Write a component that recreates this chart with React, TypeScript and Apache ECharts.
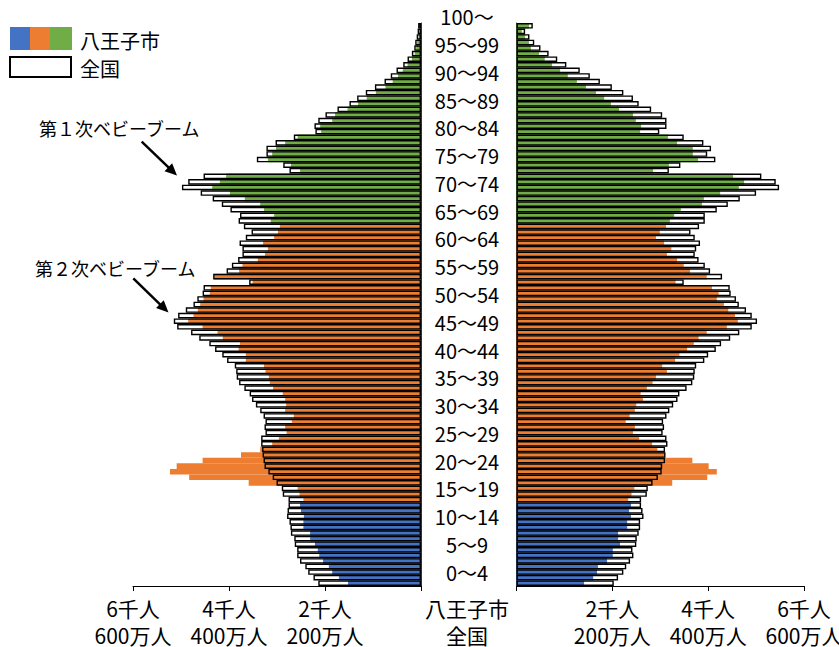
import React, { useEffect, useRef } from "react";
import * as echarts from "echarts";

// ---------- data ----------
const AGES: string[] = Array.from({ length: 101 }, (_, i) => String(i));

const AGE_GROUP_LABELS = [
  "0～4", "5～9", "10～14", "15～19", "20～24", "25～29", "30～34", "35～39",
  "40～44", "45～49", "50～54", "55～59", "60～64", "65～69", "70～74",
  "75～79", "80～84", "85～89", "90～94", "95～99", "100～",
];

const TICK_VALUES = [0, 2000, 4000, 6000];
const TICK_CITY = ["", "2千人", "4千人", "6千人"];
const TICK_NATION = ["", "200万人", "400万人", "600万人"];

// 八王子市 (people), ages 0..100+
const maleCity = [
  1520, 1710, 1850, 1920, 2040, 2120, 2150, 2210, 2310, 2310,
  2450, 2450, 2440, 2500, 2520, 2450, 2530, 2570, 3590, 4830,
  5230, 5090, 4550, 3750, 3350, 3100, 2960, 2800, 2830, 2690,
  2650, 2830, 2810, 2830, 2880, 3080, 3150, 3170, 3240, 3270,
  3650, 3650, 3800, 3770, 4130, 4240, 4550, 4850, 4740, 4650,
  4600, 4530, 4400, 4380, 3510, 4310, 3790, 3720, 3400, 3250,
  3190, 3290, 3060, 2980, 2940, 3130, 3060, 3270, 3350, 3670,
  3980, 4350, 4190, 4060, 2520, 2710, 3190, 3100, 3020, 2830,
  2570, 2080, 2100, 1850, 1790, 1530, 1310, 1130, 940, 740,
  590, 480, 380, 280, 190, 130, 100, 80, 50, 30,
  20,
];
const femaleCity = [
  1410, 1600, 1680, 1700, 1890, 2010, 2010, 2160, 2120, 2120,
  2310, 2310, 2390, 2350, 2390, 2330, 2400, 2460, 3250, 3980,
  4180, 4010, 3670, 3100, 2940, 2830, 2560, 2430, 2470, 2280,
  2360, 2470, 2500, 2640, 2590, 2720, 2840, 2910, 3140, 3040,
  3310, 3400, 3560, 3700, 3800, 3970, 4390, 4620, 4560, 4420,
  4330, 4180, 4220, 4080, 3320, 3970, 3620, 3490, 3350, 3140,
  3230, 3080, 2910, 2990, 3120, 3200, 3290, 3430, 3870, 3910,
  4250, 4640, 4750, 4520, 2850, 3180, 3790, 3680, 3680, 3350,
  3160, 2580, 2600, 2490, 2430, 2140, 1970, 1830, 1660, 1450,
  1260, 1070, 910, 740, 590, 470, 300, 260, 180, 110,
  260,
];
// 全国 (万人), ages 0..100+
const maleNation = [
  214, 224, 235, 241, 252, 258, 258, 263, 264, 271,
  272, 274, 279, 278, 276, 276, 288, 290, 301, 309,
  318, 326, 328, 330, 331, 333, 333, 324, 326, 324,
  328, 335, 344, 352, 357, 368, 379, 384, 385, 388,
  404, 414, 429, 441, 462, 479, 508, 515, 506, 490,
  474, 466, 455, 453, 358, 433, 405, 394, 381, 372,
  372, 378, 365, 353, 369, 380, 377, 397, 415, 434,
  459, 498, 485, 453, 274, 287, 342, 322, 322, 303,
  265, 220, 222, 214, 199, 174, 149, 133, 115, 96,
  76, 63, 51, 37, 28, 19, 14, 12, 9, 7,
  6,
];
const femaleNation = [
  203, 212, 223, 229, 237, 244, 242, 250, 251, 255,
  258, 258, 265, 263, 260, 260, 272, 274, 284, 295,
  303, 304, 310, 311, 310, 315, 313, 305, 308, 306,
  313, 319, 327, 336, 340, 355, 367, 371, 372, 375,
  392, 400, 416, 427, 446, 465, 491, 502, 491, 479,
  464, 458, 447, 445, 349, 429, 404, 393, 380, 372,
  375, 383, 372, 363, 381, 393, 393, 418, 441, 466,
  500, 548, 541, 511, 318, 342, 415, 398, 406, 390,
  349, 298, 313, 313, 304, 281, 255, 243, 223, 199,
  174, 153, 132, 104, 85, 67, 50, 37, 27, 18,
  34,
];

// ---------- styling ----------
const FONT = '"Noto Sans CJK JP", "Noto Sans", sans-serif';
const BLUE = "#4472C4";
const ORANGE = "#ED7D31";
const GREEN = "#70AD47";
const colorFor = (age: number) => (age < 15 ? BLUE : age < 65 ? ORANGE : GREEN);

const xLabel = (v: number) => {
  const i = TICK_VALUES.indexOf(v);
  if (i <= 0) return "";
  return `${TICK_CITY[i]}\n${TICK_NATION[i]}`;
};

function arrow(x1: number, y1: number, x2: number, y2: number) {
  const dx = x2 - x1, dy = y2 - y1;
  const L = Math.hypot(dx, dy);
  const ux = dx / L, uy = dy / L;
  const hl = 12, hw = 5.5;
  const bx = x2 - ux * hl, by = y2 - uy * hl;
  return [
    { type: "line", shape: { x1, y1, x2: bx + ux * 2, y2: by + uy * 2 }, style: { stroke: "#000", lineWidth: 2.5 } },
    {
      type: "polygon",
      shape: { points: [[x2, y2], [bx - uy * hw, by + ux * hw], [bx + uy * hw, by - ux * hw]] },
      style: { fill: "#000" },
    },
  ];
}

const txt = (text: string, x: number, y: number, size: number, align = "left", lineHeight?: number) => ({
  type: "text",
  x,
  y,
  style: { text, fontSize: size, fontFamily: FONT, fill: "#000", align, verticalAlign: "middle", lineHeight },
});

export default function App() {
  const ref = useRef<HTMLDivElement>(null);
  useEffect(() => {
    if (!ref.current) return;
    const chart = echarts.init(ref.current, null, { renderer: "svg" });

    const valueAxisCommon = {
      type: "value",
      min: 0,
      max: 6000,
      interval: 2000,
      splitLine: { show: false },
      axisLine: { show: true, lineStyle: { color: "#000", width: 1 } },
      axisTick: { show: true, length: 5, lineStyle: { color: "#000" } },
      axisLabel: {
        formatter: xLabel,
        fontSize: 21,
        lineHeight: 27,
        color: "#000",
        fontFamily: FONT,
        margin: 8.5,
        showMinLabel: true,
        showMaxLabel: true,
      },
    };
    const hiddenNation = { type: "value", min: 0, max: 600, show: false, splitLine: { show: false } };
    const catAxisCommon = {
      type: "category",
      data: AGES,
      axisLine: { show: true, lineStyle: { color: "#333", width: 1 } },
      axisTick: { show: false },
      axisLabel: { show: false },
      splitLine: { show: false },
    };
    const cityData = (arr: number[]) => arr.map((v, i) => ({ value: v, itemStyle: { color: colorFor(i) } }));
    const nationStyle = { color: "rgba(255,255,255,0)", borderColor: "#000", borderWidth: 1.4 };

    chart.setOption({
      animation: false,
      backgroundColor: "#fff",
      grid: [
        { left: 133, top: 23, width: 288, height: 563, outerBoundsMode: "none", containLabel: false },
        { left: 516.5, top: 23, width: 287.5, height: 563, outerBoundsMode: "none", containLabel: false },
        { left: 421, top: 3.1, width: 95.5, height: 582.8, outerBoundsMode: "none", containLabel: false },
      ],
      xAxis: [
        { ...valueAxisCommon, gridIndex: 0, inverse: true },
        { ...hiddenNation, gridIndex: 0, inverse: true },
        { ...valueAxisCommon, gridIndex: 1 },
        { ...hiddenNation, gridIndex: 1 },
        { type: "value", gridIndex: 2, show: false, min: 0, max: 1 },
      ],
      yAxis: [
        { ...catAxisCommon, gridIndex: 0, position: "right" },
        { ...catAxisCommon, gridIndex: 1, position: "left" },
        {
          type: "category",
          gridIndex: 2,
          data: AGE_GROUP_LABELS,
          position: "left",
          axisLine: { show: false },
          axisTick: { show: false },
          splitLine: { show: false },
          axisLabel: {
            inside: true,
            margin: 46,
            align: "center",
            verticalAlign: "middle",
            fontSize: 20,
            color: "#000",
            fontFamily: FONT,
            interval: 0,
          },
        },
      ],
      series: [
        {
          type: "bar", xAxisIndex: 0, yAxisIndex: 0, data: cityData(maleCity),
          barCategoryGap: "0%", barGap: "-100%", silent: true,
        },
        {
          type: "bar", xAxisIndex: 1, yAxisIndex: 0, data: maleNation, itemStyle: nationStyle,
          barCategoryGap: "0%", barGap: "-100%", silent: true,
        },
        {
          type: "bar", xAxisIndex: 2, yAxisIndex: 1, data: cityData(femaleCity),
          barCategoryGap: "0%", barGap: "-100%", silent: true,
        },
        {
          type: "bar", xAxisIndex: 3, yAxisIndex: 1, data: femaleNation, itemStyle: nationStyle,
          barCategoryGap: "0%", barGap: "-100%", silent: true,
        },
      ],
      graphic: [
        // legend
        { type: "rect", shape: { x: 10, y: 27, width: 20, height: 23 }, style: { fill: BLUE } },
        { type: "rect", shape: { x: 30, y: 27, width: 20, height: 23 }, style: { fill: ORANGE } },
        { type: "rect", shape: { x: 50, y: 27, width: 22, height: 23 }, style: { fill: GREEN } },
        { type: "rect", shape: { x: 10, y: 57, width: 61, height: 20 }, style: { fill: "#fff", stroke: "#000", lineWidth: 2 } },
        txt("八王子市", 80, 40, 20),
        txt("全国", 80, 68, 20),
        // annotations
        txt("第１次ベビーブーム", 39, 128, 18),
        txt("第２次ベビーブーム", 35, 268, 18),
        ...arrow(141.7, 141.7, 177, 175.5),
        ...arrow(133.3, 278.3, 168.5, 312.5),
        // center axis caption
        txt("八王子市\n全国", 467, 621.5, 21, "center", 27),
      ],
    });
    return () => chart.dispose();
  }, []);
  return (
    <div
      ref={ref}
      style={{ position: "fixed", left: 0, top: 0, width: 839, height: 647, background: "#fff" }}
    />
  );
}
